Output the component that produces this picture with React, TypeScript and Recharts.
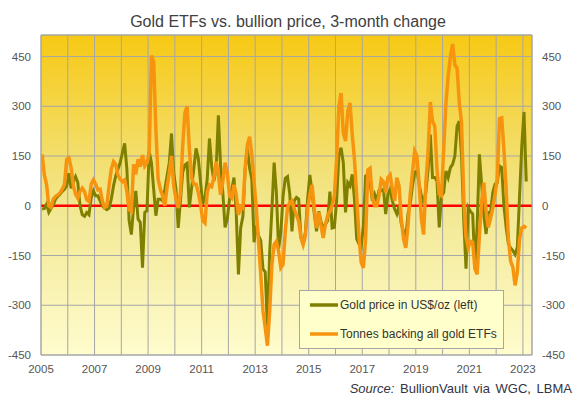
import React from 'react';
import {
  LineChart,
  Line,
  XAxis,
  YAxis,
  CartesianGrid,
  ReferenceLine,
  Legend,
} from 'recharts';

// 3-month change, monthly from Jan 2005 to Feb 2023
const startYear = 2005;

// Gold price in US$/oz, 3-month change (left axis)
const goldPrice = [
  -10, -8, 5, -20, -8, 3, 20, 28, 35, 43, 50, 60, // 2005
  98, 53, 73, 88, 70, 0, -27, -32, -20, -27, 23, 45, // 2006
  30, 30, 15, 0, -7, -12, -7, 20, 60, 90, 110, 130, // 2007
  160, 188, 110, -45, -87, -5, 45, -40, -50, -187, -20, -15, // 2008
  165, 130, 50, -30, 20, 20, 15, 50, 90, 130, 218, 100, // 2009
  50, -67, 15, 100, 123, 128, -5, 53, 113, 173, 143, 73, // 2010
  5, 25, 80, 203, 120, 75, 110, 273, 120, 40, -65, -40, // 2011
  20, 50, 85, -20, -207, -67, -32, 110, 173, 113, 80, -110, // 2012
  -60, -90, -105, -190, -200, -370, -140, -10, 130, 40, -130, -80, // 2013
  30, 83, 88, 35, -77, 15, 25, 20, -95, -117, -80, 20, // 2014
  93, 43, -25, -77, -17, -47, -67, -55, -45, 43, -67, -65, // 2015
  15, 150, 175, 130, -20, 70, 60, 95, 20, -100, -115, -125, // 2016
  -60, 90, 95, 70, 15, 35, 15, 45, 45, 50, -25, 35, // 2017
  50, 15, -10, -25, 0, -55, -77, -97, -25, 5, 60, 100, // 2018
  105, 65, 30, 10, 40, 110, 215, 85, 85, 75, -65, 30, // 2019
  40, 105, 85, 115, 125, 150, 240, 255, 150, -45, -190, -5, // 2020
  -17, -25, -190, -60, 155, 65, -30, -85, -20, -20, 40, 65, // 2021
  70, 120, 115, 0, -65, -115, -127, -135, -147, -125, 30, 180, // 2022
  283, 73, // 2023
];

// Tonnes backing all gold ETFs, 3-month change (right axis)
const etfTonnes = [
  155, 93, 65, 0, -5, 20, 28, 33, 38, 50, 63, 140, // 2005
  145, 115, 60, 35, 23, 43, 53, 43, 18, 13, 65, 78, // 2006
  65, 48, 50, 15, -5, 0, 60, 110, 133, 125, 93, 80, // 2007
  73, 78, 43, -12, -17, 125, 95, 140, 118, 153, 120, 130, // 2008
  160, 453, 435, 230, 80, 50, 30, 0, 55, 100, 150, 60, // 2009
  20, -7, 40, 180, 280, 300, 170, 85, 65, 65, 40, 5, // 2010
  -45, -52, 40, 63, 58, 85, 133, 95, 33, 73, 130, 100, // 2011
  30, 23, 63, 33, -27, -2, -7, 113, 183, 208, 153, 73, // 2012
  -7, -107, -207, -317, -367, -422, -317, -177, -117, -107, -137, -187, // 2013
  -177, -77, -5, 10, 15, -10, -27, -47, -95, -117, -90, -10, // 2014
  33, 63, -10, -67, -20, -60, -97, -55, -30, -17, 0, 30, // 2015
  140, 300, 340, 220, 195, 285, 310, 215, 140, 30, -90, -170, // 2016
  -187, -100, 108, 113, 25, 0, 0, 30, 80, 73, 40, 85, // 2017
  93, 50, 15, 85, 60, -40, -100, -127, -60, 35, 100, 165, // 2018
  150, 63, -40, -87, 70, 163, 313, 255, 240, 110, 35, 30, // 2019
  170, 310, 390, 450, 488, 425, 415, 310, 250, 23, -95, -127, // 2020
  -107, -110, -190, -207, -90, 13, 70, -15, -65, -37, -7, 33, // 2021
  83, 263, 265, 170, 50, -100, -167, -185, -240, -200, -100, -67, // 2022
  -62, -67, // 2023
];

const yTicks = [-450, -300, -150, 0, 150, 300, 450];
const xTicks = [
  2005, 2006, 2007, 2008, 2009, 2010, 2011, 2012, 2013, 2014,
  2015, 2016, 2017, 2018, 2019, 2020, 2021, 2022, 2023,
];

const title = 'Gold ETFs vs. bullion price, 3-month change';
const goldLabel = 'Gold price in US$/oz (left)';
const etfLabel = 'Tonnes backing all gold ETFs';

const FONT = '"Liberation Sans", Arial, sans-serif';
const GRID = '#a6a6a6';
const TICK = '#555555';

// each month plotted at mid-month
const chartData = goldPrice.map((g, i) => ({
  t: startYear + (i + 0.5) / 12,
  gold: g,
  etf: etfTonnes[i],
}));

const LegendBox = ({ payload }: any) => {
  if (!payload) return null;
  return (
    <div
      style={{
        boxSizing: 'border-box',
        width: 205,
        height: 59,
        background: '#ffffcc',
        border: `1px solid ${GRID}`,
        fontFamily: FONT,
        fontSize: 12,
        color: '#333',
        paddingTop: 6,
      }}
    >
      {payload.map((entry: any) => (
        <div
          key={entry.value}
          style={{ display: 'flex', alignItems: 'center', height: 16, marginBottom: 13, paddingLeft: 10 }}
        >
          <svg width={28} height={6} style={{ marginRight: 2 }}>
            <line x1={0} y1={3} x2={28} y2={3} stroke={entry.color} strokeWidth={3.5} />
          </svg>
          <span>{entry.value}</span>
        </div>
      ))}
    </div>
  );
};

export default function App() {
  const tickStyle = { fontSize: 11.5, fill: TICK, fontFamily: FONT };

  return (
    <div
      style={{
        position: 'absolute',
        left: 0,
        top: 0,
        width: 576,
        height: 399,
        background: '#fff',
        fontFamily: FONT,
      }}
    >
      <div
        style={{
          position: 'absolute',
          left: 0,
          top: 12,
          width: 576,
          textAlign: 'center',
          fontSize: 16,
          lineHeight: '20px',
          color: '#404040',
        }}
      >
        {title}
      </div>

      <LineChart
        width={576}
        height={399}
        data={chartData}
        margin={{ top: 35, right: 0, bottom: 24, left: 0 }}
      >
        <defs>
          <linearGradient id="goldBg" x1="0" y1="0" x2="0" y2="1">
            <stop offset="0%" stopColor="#f7c914" />
            <stop offset="30%" stopColor="#f4da5a" />
            <stop offset="55%" stopColor="#f2e893" />
            <stop offset="100%" stopColor="#fffcce" />
          </linearGradient>
        </defs>
        <CartesianGrid stroke={GRID} fill="url(#goldBg)" fillOpacity={1} />
        <XAxis
          dataKey="t"
          type="number"
          domain={[2005, 2023.34]}
          ticks={xTicks}
          interval={0}
          allowDataOverflow
          tickFormatter={(v: number) => (v % 2 === 1 ? String(v) : '')}
          height={20}
          tickLine={false}
          tickSize={0}
          tickMargin={10}
          axisLine={{ stroke: GRID }}
          tick={tickStyle}
        />
        <YAxis
          domain={[-450, 515]}
          ticks={yTicks}
          interval={0}
          allowDataOverflow
          width={41}
          tickLine={false}
          tickSize={0}
          tickMargin={10}
          axisLine={{ stroke: GRID }}
          tick={tickStyle}
        />
        <YAxis
          yAxisId="right"
          orientation="right"
          domain={[-450, 515]}
          ticks={yTicks}
          interval={0}
          allowDataOverflow
          width={44}
          tickLine={false}
          tickSize={0}
          tickMargin={10}
          axisLine={{ stroke: GRID }}
          tick={tickStyle}
        />
        <ReferenceLine y={515} stroke={GRID} />
        <ReferenceLine y={0} stroke="#ff0000" strokeWidth={2.5} zIndex={-50} />
        <Line
          type="linear"
          dataKey="gold"
          name={goldLabel}
          stroke="#808000"
          strokeWidth={3}
          dot={false}
          isAnimationActive={false}
        />
        <Line
          type="linear"
          dataKey="etf"
          yAxisId="right"
          name={etfLabel}
          stroke="#f7940f"
          strokeWidth={3.5}
          dot={false}
          isAnimationActive={false}
        />
        <Legend
          layout="vertical"
          align="center"
          verticalAlign="middle"
          content={<LegendBox />}
          wrapperStyle={{ left: 299, top: 290, width: 205, height: 59 }}
        />
      </LineChart>

      <div
        style={{
          position: 'absolute',
          right: 4,
          top: 381,
          fontSize: 13,
          lineHeight: '16px',
          color: '#333344',
          wordSpacing: 2,
        }}
      >
        <i>Source:</i> BullionVault via WGC, LBMA
      </div>
    </div>
  );
}
